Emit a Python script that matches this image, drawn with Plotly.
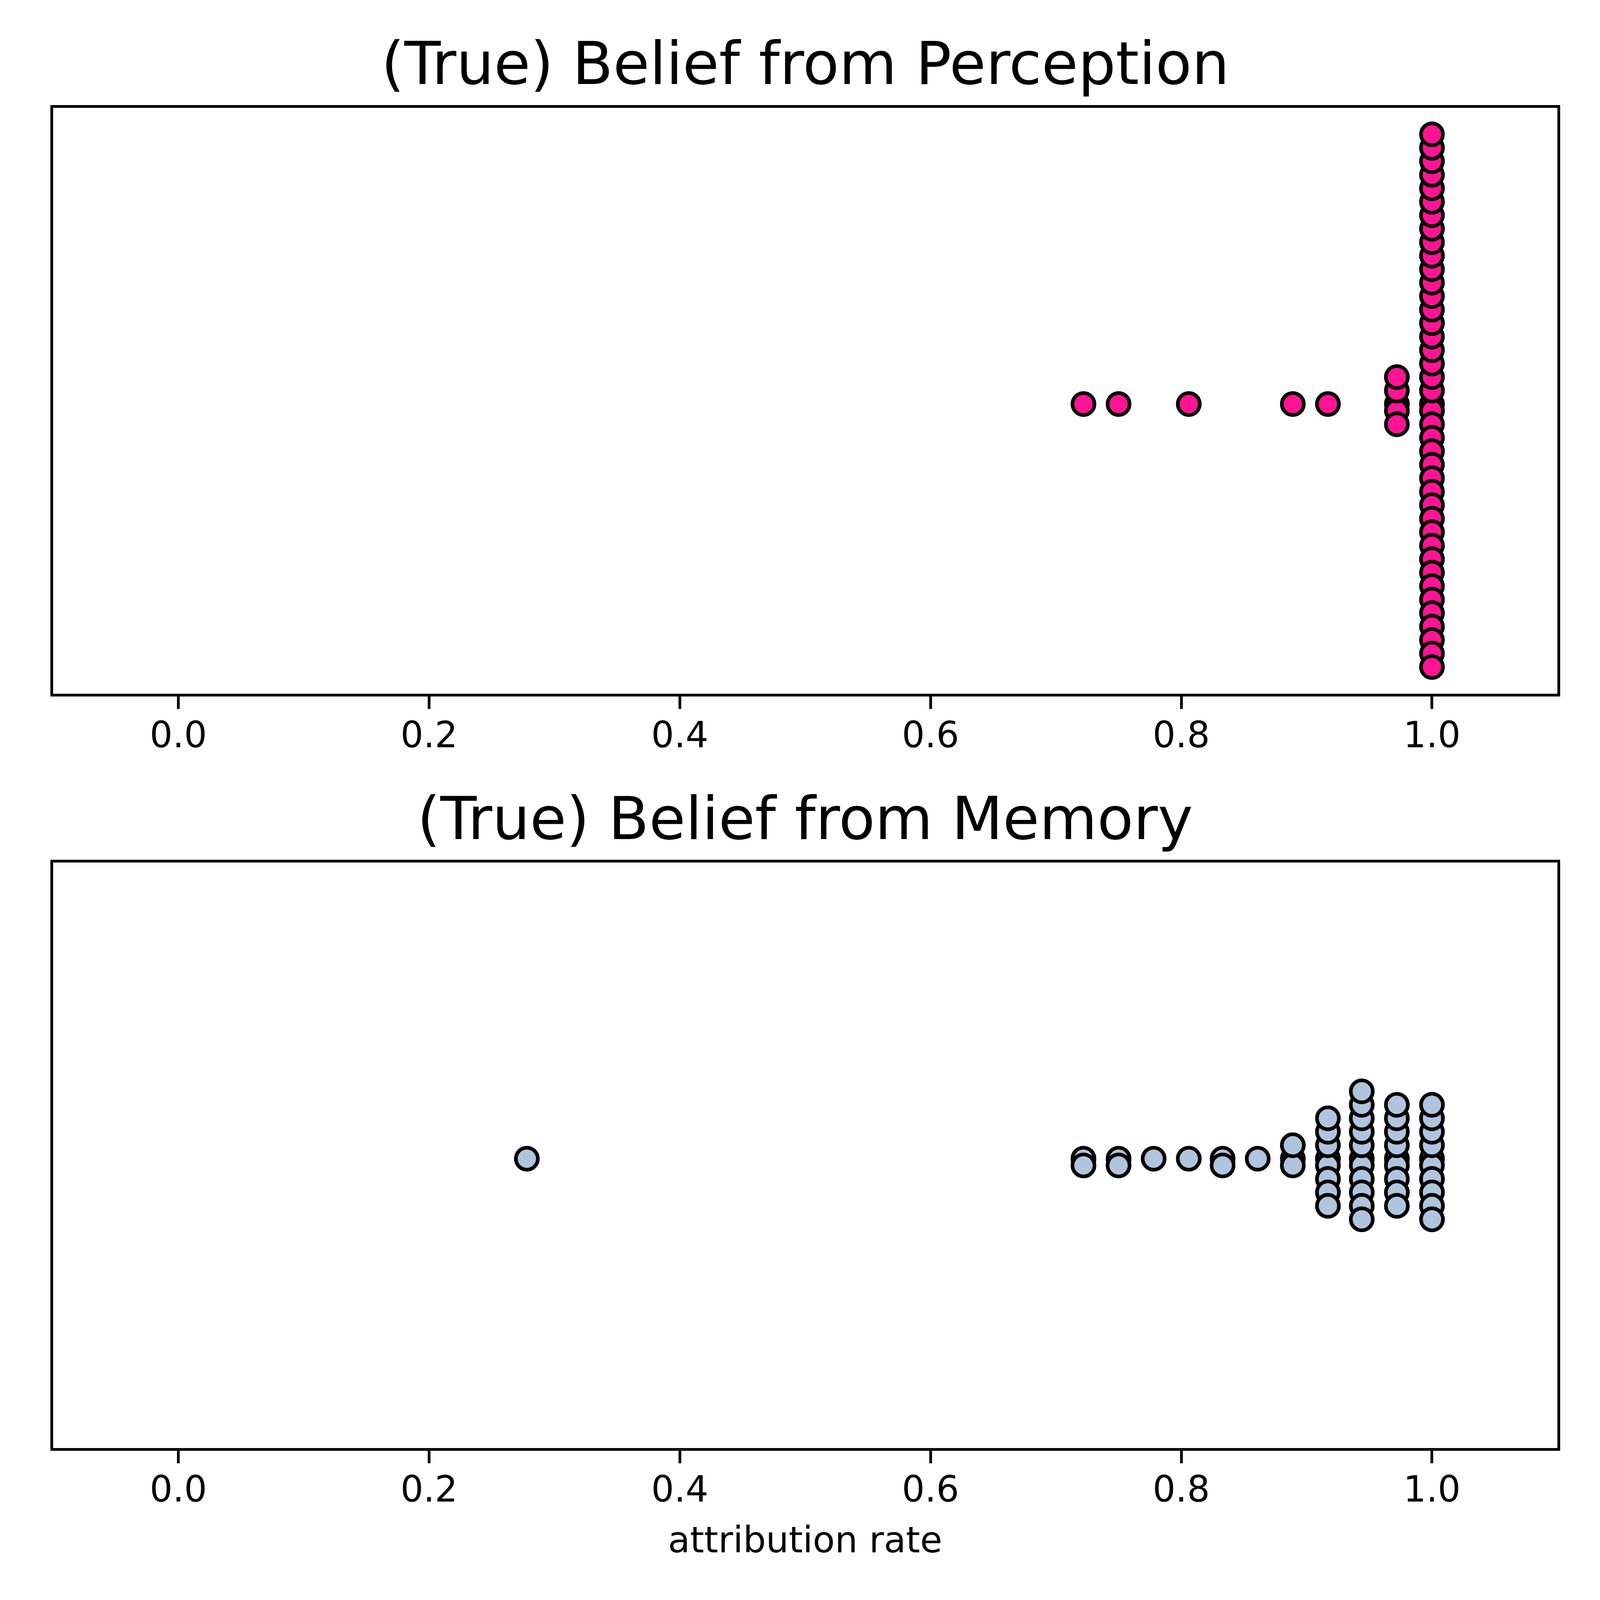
import plotly.graph_objects as go

# distinct attribution-rate values and how many items sit at each value
perception_rates = [0.722, 0.750, 0.806, 0.889, 0.917, 0.972, 1.000]
perception_counts = [1, 1, 1, 1, 1, 5, 41]

memory_rates = [0.278, 0.722, 0.750, 0.778, 0.806, 0.833, 0.861, 0.889, 0.917, 0.944, 0.972, 1.000]
memory_counts = [1, 2, 2, 1, 1, 2, 1, 3, 8, 11, 9, 10]

x_ticks = [0.0, 0.2, 0.4, 0.6, 0.8, 1.0]
titles = ["(True) Belief from Perception", "(True) Belief from Memory"]
x_label = "attribution rate"


def swarm(rates, counts):
    # stack equal values in a column, alternating half steps below / whole steps above
    xs, ys = [], []
    for r, n in zip(rates, counts):
        for k in range(n):
            if k == 0:
                off = 0.0
            elif k % 2 == 1:
                off = -(k // 2 + 0.5)
            else:
                off = float(k // 2)
            xs.append(r)
            ys.append(off)
    return xs, ys


px_, py_ = swarm(perception_rates, perception_counts)
mx_, my_ = swarm(memory_rates, memory_counts)

# y limits like matplotlib autoscale (5% margin), shared by both panels
span = max(py_) - min(py_)
y_range = [min(py_) - 0.05 * span, max(py_) + 0.05 * span]

# viewport is 4096 css px shown on a 4800 px shot, body has an 8px margin;
# layout numbers below are in shot pixels
S = 4096 / 4800
BODY = 8
W = H = 4096 - BODY
FONT = "DejaVu Sans"
LW = 8 * S

# panel boxes in shot pixels (left, right, top, bottom)
left, right = 159, 4672
top1, bot1 = 323, 2081
top2, bot2 = 2588, 4344


def fx(x):
    return (x * S - BODY) / W


def fy(y):
    return 1 - (y * S - BODY) / H


marker = dict(size=66 * S, line=dict(color="black", width=11 * S))

fig = go.Figure()
fig.add_trace(go.Scatter(
    x=px_, y=py_, mode="markers", xaxis="x", yaxis="y",
    marker=dict(marker, color="#FF1493"),
    showlegend=False, hoverinfo="skip"))
fig.add_trace(go.Scatter(
    x=mx_, y=my_, mode="markers", xaxis="x2", yaxis="y2",
    marker=dict(marker, color="#B0C4DE"),
    showlegend=False, hoverinfo="skip"))

xax = dict(range=[-0.1, 1.1], tickvals=x_ticks, ticktext=[f"{v:.1f}" for v in x_ticks],
           ticks="outside", ticklen=38 * S, tickwidth=LW, tickcolor="black",
           ticklabelstandoff=-13,
           showline=True, linewidth=LW, linecolor="black", mirror=True,
           showgrid=False, zeroline=False, tickfont=dict(size=108 * S, color="black"),
           domain=[fx(left), fx(right)])
yax = dict(range=y_range, showticklabels=False, ticks="",
           showline=True, linewidth=LW, linecolor="black", mirror=True,
           showgrid=False, zeroline=False)

fig.update_layout(
    width=W, height=H,
    margin=dict(l=0, r=0, t=0, b=0),
    paper_bgcolor="white", plot_bgcolor="white",
    font=dict(family=FONT, color="black"),
    xaxis=dict(xax, anchor="y"),
    yaxis=dict(yax, anchor="x", domain=[fy(bot1), fy(top1)]),
    xaxis2=dict(xax, anchor="y2"),
    yaxis2=dict(yax, anchor="x2", domain=[fy(bot2), fy(top2)]),
)

cx = fx((left + right) / 2)
for txt, yy, fs in [(titles[0], 191, 178), (titles[1], 2456, 178), (x_label, 4620, 108)]:
    fig.add_annotation(text=txt, x=cx, y=fy(yy), xref="paper", yref="paper",
                       showarrow=False, xanchor="center", yanchor="middle",
                       font=dict(size=fs * S, family=FONT))

fig.write_html("out.html")
